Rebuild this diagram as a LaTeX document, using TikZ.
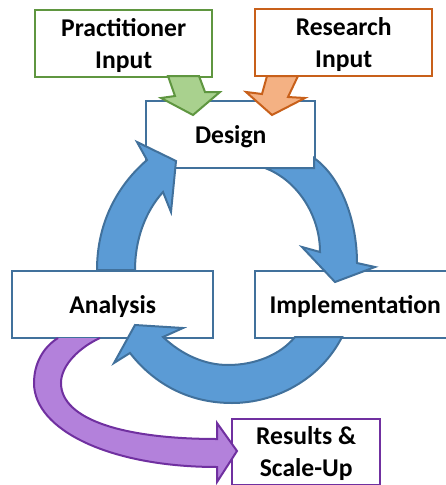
\documentclass[tikz,border=0pt]{standalone}
\usepackage{fontspec}
\setmainfont{Carlito}
\definecolor{bluefill}{HTML}{5B9BD5}
\definecolor{blueline}{HTML}{41719C}
\definecolor{greenfill}{HTML}{A9D18E}
\definecolor{greenline}{HTML}{5F9640}
\definecolor{orangefill}{HTML}{F4B183}
\definecolor{orangeline}{HTML}{C8601A}
\definecolor{purplefill}{HTML}{B381DB}
\definecolor{purpleline}{HTML}{7030A0}
\tikzset{
  box/.style={draw, fill=white, line width=2.4pt, inner sep=0pt, align=center, anchor=north west,
    text depth=1pt, font=\fontsize{25.6}{32}\selectfont\bfseries},
  blockarrow/.style={line width=2pt, line join=miter, miter limit=10},
  blueshape/.style={blockarrow, draw=blueline, fill=bluefill},
}
\begin{document}
\begin{tikzpicture}[x=1pt,y=-1pt]
\useasboundingbox (0,0) rectangle (446,485);
% boxes
\node[box, draw=greenline, minimum width=177pt, minimum height=67pt] (prac) at (34,9) {Practitioner\\Input};
\node[box, draw=orangeline, minimum width=177pt, minimum height=67pt] (res) at (254,8) {Research\\Input};
\node[box, draw=blueline, minimum width=169pt, minimum height=67pt] (des) at (145,100) {Design};
\node[box, draw=blueline, minimum width=201pt, minimum height=67pt] (ana) at (11,270) {Analysis};
\node[box, draw=blueline, minimum width=200pt, minimum height=67pt] (imp) at (254,270) {Implementation};
\node[box, draw=purpleline, minimum width=148pt, minimum height=66pt] (out) at (231,418) {Results \&\\Scale-Up};
% block arrows
\draw[blockarrow, draw=greenline, fill=greenfill] (168,76) -- (199,76) -- (205,92) -- (220,92) -- (193,115) -- (161,98) -- (175,96) -- cycle;
\draw[blockarrow, draw=orangeline, fill=orangefill] (267,76) -- (298,76) -- (288,97) -- (305,98) -- (272,115) -- (246,92) -- (262,94) -- cycle;
% left arc, Analysis to Design
\draw[blueshape] (97,270) .. controls (97,222) and (118,185) .. (147,160) -- (137,142) -- (176,161) -- (171,212) -- (163,192) .. controls (145,212) and (135,240) .. (135,270) -- cycle;
% right arc, Design to Implementation
\draw[blueshape] (314,158) .. controls (342,178) and (357,222) .. (357,263) -- (375,267) -- (335,282) -- (302,247) -- (320,252) .. controls (320,215) and (297,180) .. (265,168) -- (314,168) -- cycle;
% bottom arc, Implementation to Analysis
\draw[blueshape] (342,337) .. controls (320,380) and (275,403) .. (232,403) .. controls (190,403) and (155,385) .. (130,353) -- (114,363) -- (135,325) -- (183,328) -- (163,337) .. controls (182,355) and (205,365) .. (228,365) .. controls (255,365) and (280,355) .. (295,337) -- cycle;
% purple arc, Analysis to Results: filled closed, outlined open so the tail leaves the box edge clean
\fill[purplefill] (58,338) .. controls (42,348) and (34,365) .. (34,383) .. controls (34,430) and (110,467) .. (217,467) -- (217,482) -- (237,451) -- (217,423) -- (217,439) .. controls (125,439) and (61,420) .. (61,383) .. controls (61,365) and (80,347) .. (100,338) -- cycle;
\draw[blockarrow, draw=purpleline] (58,338) .. controls (42,348) and (34,365) .. (34,383) .. controls (34,430) and (110,467) .. (217,467) -- (217,482) -- (237,451) -- (217,423) -- (217,439) .. controls (125,439) and (61,420) .. (61,383) .. controls (61,365) and (80,347) .. (100,338);
\end{tikzpicture}
\end{document}
